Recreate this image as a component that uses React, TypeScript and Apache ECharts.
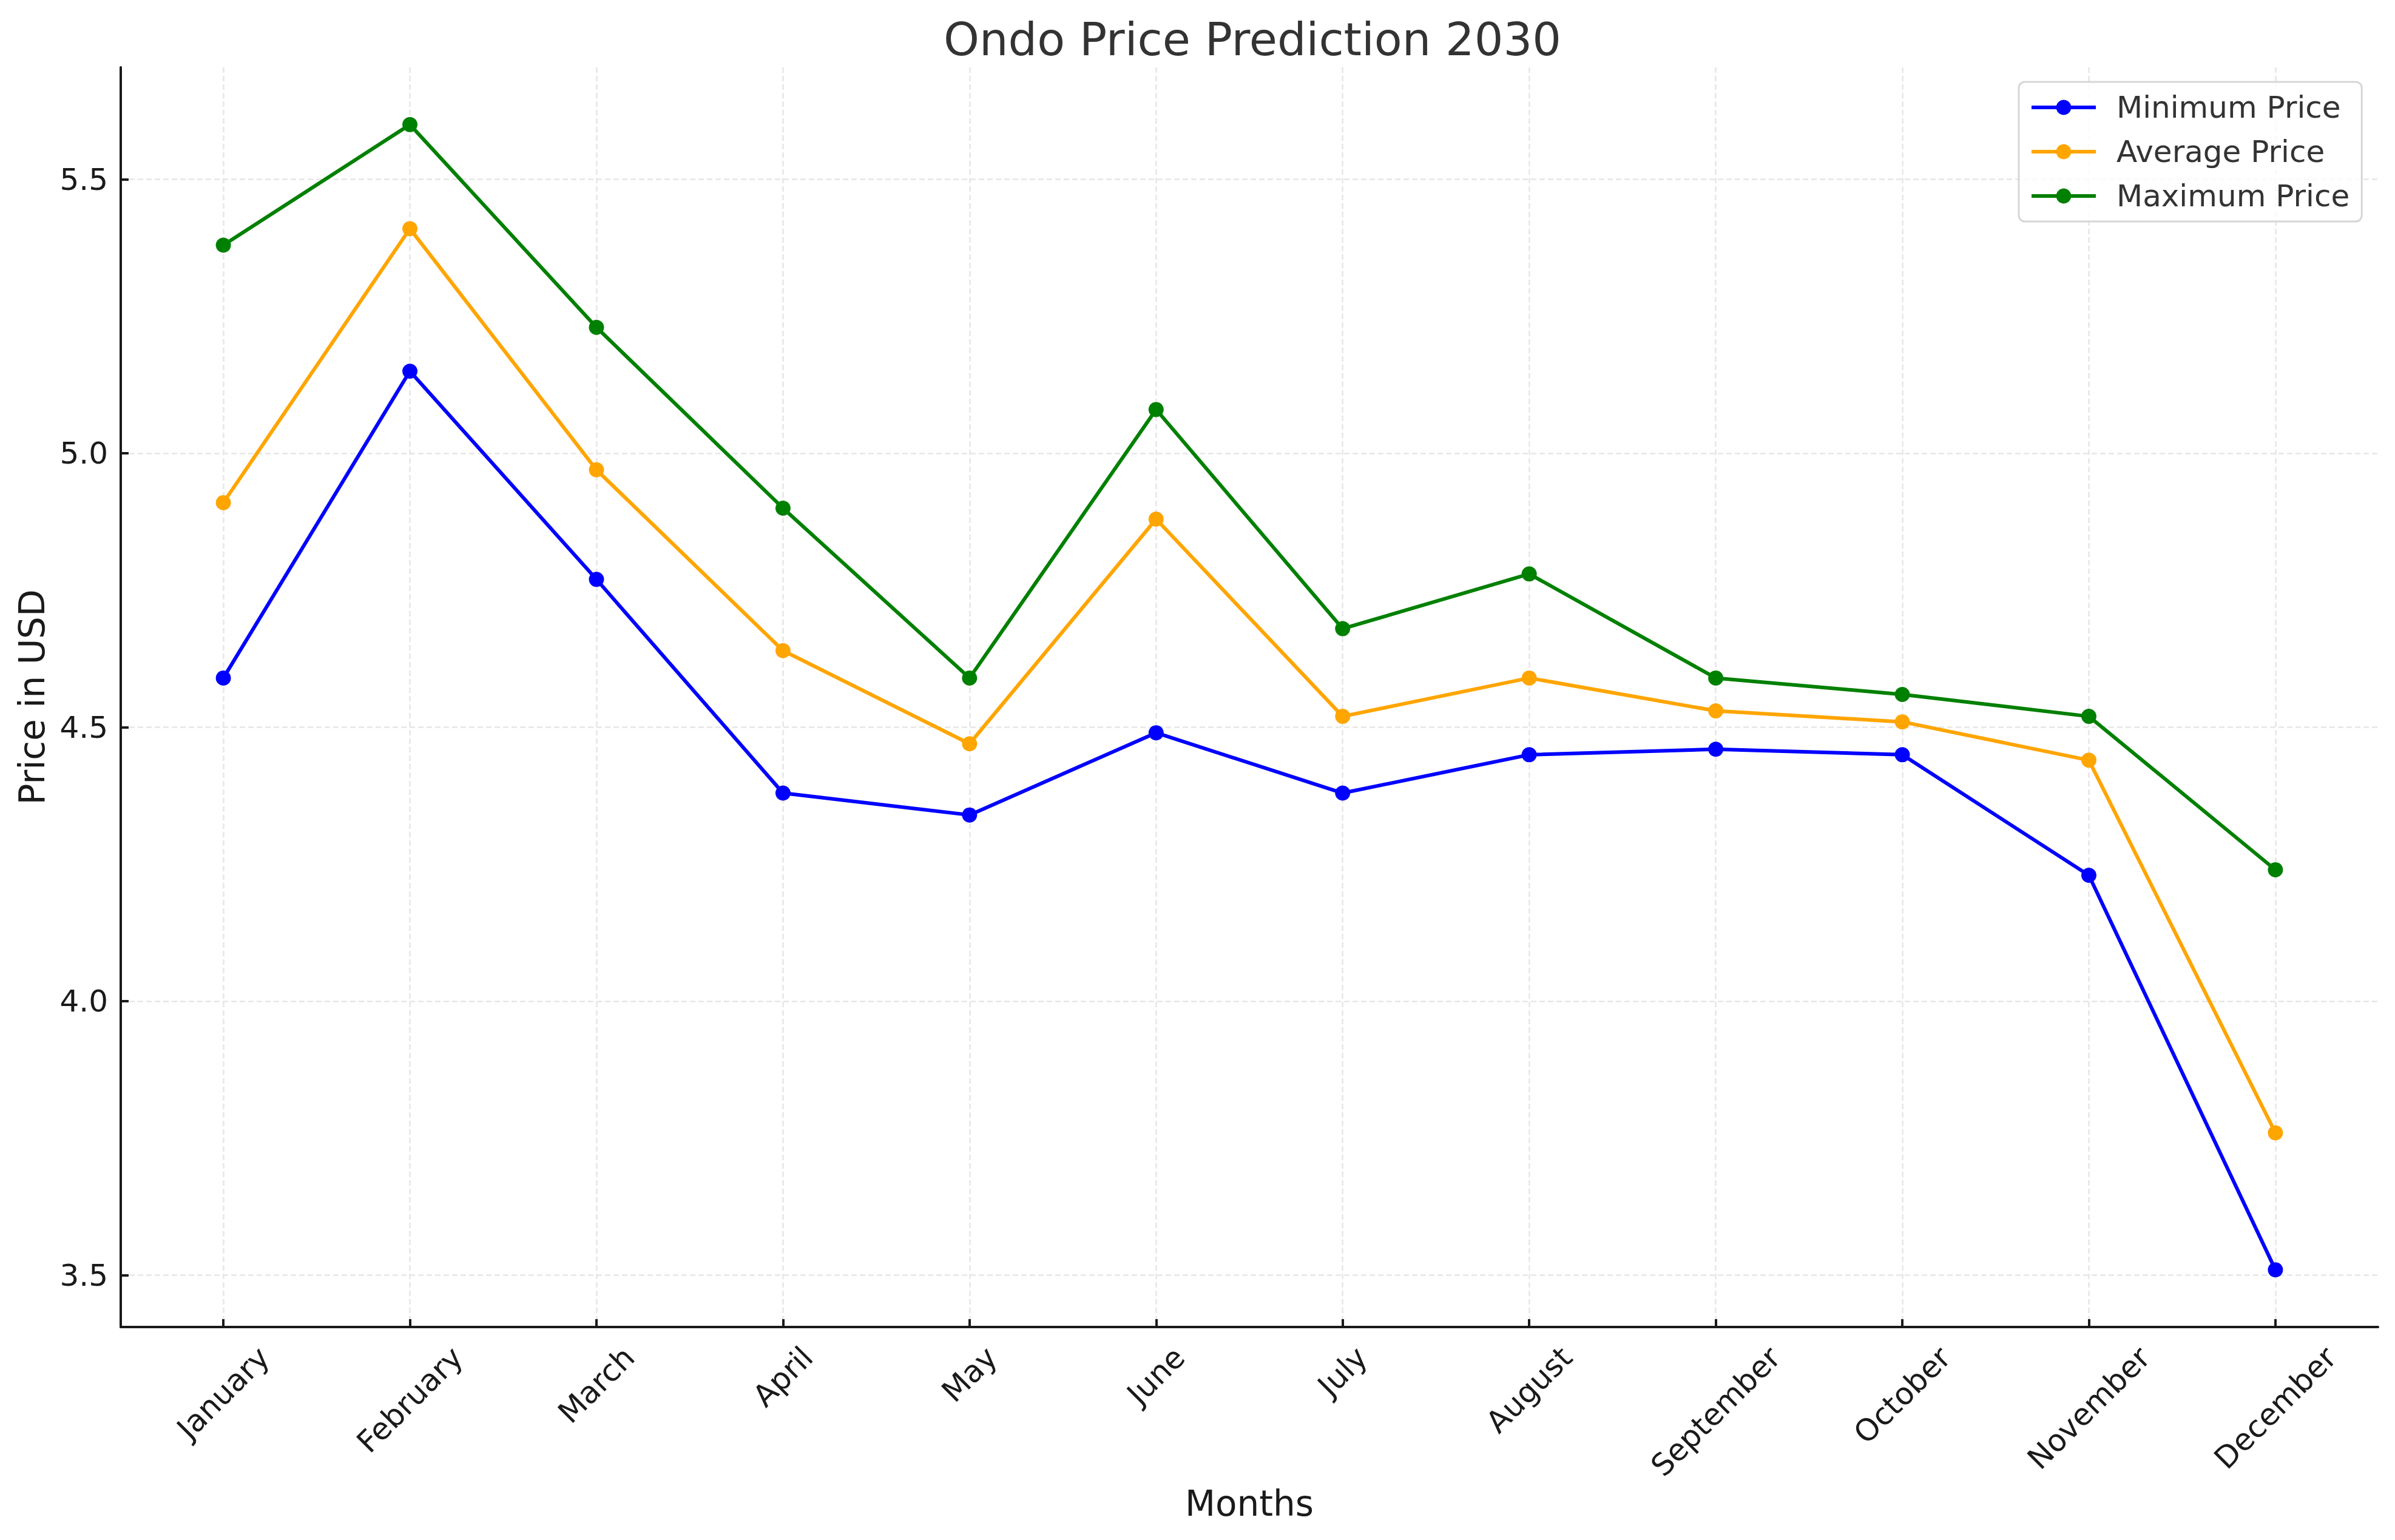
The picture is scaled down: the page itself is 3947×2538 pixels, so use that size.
import React, { useEffect, useRef } from "react";
import * as echarts from "echarts";

const months = ["January", "February", "March", "April", "May", "June", "July", "August", "September", "October", "November", "December"];
const minPrice = [4.59, 5.15, 4.77, 4.38, 4.34, 4.49, 4.38, 4.45, 4.46, 4.45, 4.23, 3.51];
const avgPrice = [4.91, 5.41, 4.97, 4.64, 4.47, 4.88, 4.52, 4.59, 4.53, 4.51, 4.44, 3.76];
const maxPrice = [5.38, 5.60, 5.23, 4.90, 4.59, 5.08, 4.68, 4.78, 4.59, 4.56, 4.52, 4.24];
const yTicks = [3.5, 4.0, 4.5, 5.0, 5.5];
const seriesNames = ["Minimum Price", "Average Price", "Maximum Price"];
const seriesColors = ["#0000ff", "#ffa500", "#008000"];

const FONT = "DejaVu Sans";

export default function App() {
  const ref = useRef<HTMLDivElement>(null);
  useEffect(() => {
    if (!ref.current) return;
    const chart = echarts.init(ref.current, null, { renderer: "svg" });

    const canvas = document.createElement("canvas");
    const ctx = canvas.getContext("2d")!;
    ctx.font = `50px "${FONT}"`;
    const rich: Record<string, any> = {};
    months.forEach((m, i) => {
      const w = ctx.measureText(m).width;
      const P = (w + 50) / 2;
      rich["m" + i] = {
        fontSize: 50,
        fontFamily: FONT,
        color: "#1a1a1a",
        lineHeight: 50,
        padding: [P, P, 0, 0],
      };
    });

    const xIdx = months.map((_, i) => i);
    const dataOf = (arr: number[]) => arr.map((v, i) => [i, v]);
    const all = [minPrice, avgPrice, maxPrice];
    const lo = Math.min(...minPrice, ...avgPrice, ...maxPrice);
    const hi = Math.max(...minPrice, ...avgPrice, ...maxPrice);
    const pad = (hi - lo) * 0.05;

    const gridLine = { show: true, lineStyle: { color: "#e6e6e6", width: 2.5, type: [9, 5] } };

    chart.setOption({
      animation: false,
      backgroundColor: "#ffffff",
      title: {
        text: "Ondo Price Prediction 2030",
        left: 2059,
        top: 22,
        textAlign: "center",
        textStyle: { fontFamily: FONT, fontSize: 75, fontWeight: "normal", color: "#333333" },
      },
      legend: {
        orient: "vertical",
        left: 3327,
        top: 135,
        padding: [17, 20, 17, 18],
        itemWidth: 106,
        itemHeight: 31,
        itemGap: 23,
        backgroundColor: "rgba(255,255,255,0.8)",
        borderColor: "#d6d6d6",
        borderWidth: 3,
        borderRadius: 10,
        lineStyle: { width: 6 },
        textStyle: { fontFamily: FONT, fontSize: 50, color: "#333333", padding: [0, 0, 0, 29], lineHeight: 50 },
        data: seriesNames,
      },
      grid: { left: 199, top: 111, right: 28, bottom: 351, containLabel: false, outerBoundsMode: "none" },
      xAxis: {
        type: "value",
        min: -0.55,
        max: 11.55,
        name: "Months",
        nameLocation: "middle",
        nameGap: 258,
        nameTextStyle: { fontFamily: FONT, fontSize: 58, color: "#1a1a1a" },
        axisLine: { show: true, onZero: false, lineStyle: { color: "#1a1a1a", width: 4 } },
        axisTick: { show: true, inside: true, length: 13, lineStyle: { color: "#1a1a1a", width: 4 }, customValues: xIdx },
        axisLabel: {
          customValues: xIdx,
          rotate: 45,
          margin: 24,
          align: "center",
          verticalAlign: "middle",
          fontFamily: FONT,
          fontSize: 50,
          color: "#1a1a1a",
          formatter: (v: number) => {
            const i = Math.round(v);
            return `{m${i}|${months[i]}}`;
          },
          rich,
        },
        splitLine: gridLine,
      },
      yAxis: {
        type: "value",
        min: lo - pad,
        max: hi + pad,
        name: "Price in USD",
        nameLocation: "middle",
        nameGap: 117,
        nameTextStyle: { fontFamily: FONT, fontSize: 58, color: "#1a1a1a" },
        axisLine: { show: true, onZero: false, lineStyle: { color: "#1a1a1a", width: 4 } },
        axisTick: { show: true, inside: true, length: 13, lineStyle: { color: "#1a1a1a", width: 4 }, customValues: yTicks },
        axisLabel: {
          customValues: yTicks,
          margin: 21,
          fontFamily: FONT,
          fontSize: 50,
          color: "#1a1a1a",
          formatter: (v: number) => v.toFixed(1),
        },
        splitLine: gridLine,
      },
      series: all.map((arr, k) => ({
        name: seriesNames[k],
        type: "line",
        data: dataOf(arr),
        symbol: "circle",
        symbolSize: 25,
        showSymbol: true,
        color: seriesColors[k],
        lineStyle: { width: 6, color: seriesColors[k] },
        itemStyle: { color: seriesColors[k] },
        z: 2 + k,
      })),
    });
    return () => chart.dispose();
  }, []);
  return <div ref={ref} style={{ position: "absolute", left: 0, top: 0, width: 3947, height: 2538 }} />;
}
